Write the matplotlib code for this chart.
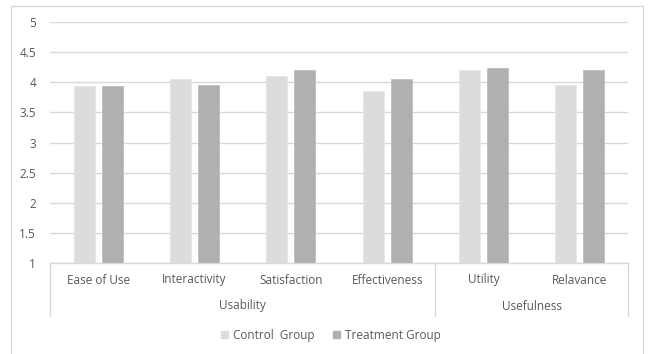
import matplotlib
matplotlib.use("Agg")
import matplotlib.pyplot as plt
import numpy as np
from matplotlib.patches import Rectangle
from matplotlib.lines import Line2D

categories = ["Ease of Use", "Interactivity", "Satisfaction", "Effectiveness", "Utility", "Relavance"]
groups = ["Usability", "Usefulness"]
group_sizes = [4, 2]
control = [3.93, 4.06, 4.10, 3.86, 4.21, 3.95]
treatment = [3.93, 3.95, 4.20, 4.05, 4.23, 4.21]
series_names = ["Control  Group", "Treatment Group"]
yticks = [1, 1.5, 2, 2.5, 3, 3.5, 4, 4.5, 5]
ytick_labels = ["1", "1.5", "2", "2.5", "3", "3.5", "4", "4.5", "5"]

plt.rcParams['font.family'] = ['Open Sans', 'DejaVu Sans']
W, H = 648, 354
fig = plt.figure(figsize=(W / 100, H / 100), dpi=100)

text_color = "#595959"
line_color = "#d9d9d9"
c_control = "#dcdcdc"
c_treat = "#b0b0b0"

# outer chart border (runs past the lower edge of the image)
fig.patches.append(Rectangle((11 / W, -10 / H), 632 / W, 358 / H, transform=fig.transFigure,
                             fill=False, edgecolor="#d9d9d9", linewidth=1))

left, right, top, bottom = 50, 628, 22, 263
ax = fig.add_axes([left / W, 1 - bottom / H, (right - left) / W, (bottom - top) / H])

x = np.arange(len(categories))
bw = 0.22
gap = 0.07
ax.bar(x - (bw + gap) / 2, np.array(control) - 1, bottom=1, width=bw, color=c_control,
       edgecolor="#e6e6e6", linewidth=0.6, zorder=3)
ax.bar(x + (bw + gap) / 2, np.array(treatment) - 1, bottom=1, width=bw, color=c_treat,
       edgecolor="#bdbdbd", linewidth=0.6, zorder=3)

ax.set_xlim(-0.5, len(categories) - 0.5)
ax.set_ylim(1, 5)
ax.set_yticks(yticks)
ax.set_yticklabels(ytick_labels, fontsize=8.5, color=text_color)
ax.tick_params(axis='y', length=0, pad=10)
ax.set_xticks([])
ax.grid(axis='y', color=line_color, linewidth=1, zorder=0)
for s in ["top", "right", "left"]:
    ax.spines[s].set_visible(False)
ax.spines["bottom"].set_color(line_color)
ax.spines["bottom"].set_linewidth(1)

# category labels and group labels below the axis
trans = ax.get_xaxis_transform()
ph = bottom - top
def yax(py):
    return (bottom - py) / ph

for i, c in enumerate(categories):
    ax.text(i, yax(280), c, transform=trans, ha="center", va="center",
            fontsize=8.5, color=text_color, clip_on=False)

start = -0.5
bounds = [start]
for g, n in zip(groups, group_sizes):
    end = start + n
    ax.text((start + end) / 2, yax(306), g, transform=trans, ha="center", va="center",
            fontsize=8.5, color=text_color, clip_on=False)
    start = end
    bounds.append(end)
for b in bounds:
    ax.add_line(Line2D([b, b], [0, yax(316)], transform=trans, color=line_color,
                       linewidth=1, clip_on=False))

handles = [Rectangle((0, 0), 1, 1, color=c_control), Rectangle((0, 0), 1, 1, color=c_treat)]
fig.legend(handles, series_names, loc="center", bbox_to_anchor=(331 / W, 1 - 335 / H),
           ncol=2, frameon=False, fontsize=8.5, labelcolor=text_color,
           handlelength=0.6, handleheight=0.6, handletextpad=0.4, columnspacing=1.6)

fig.savefig("out.png", dpi=100)
